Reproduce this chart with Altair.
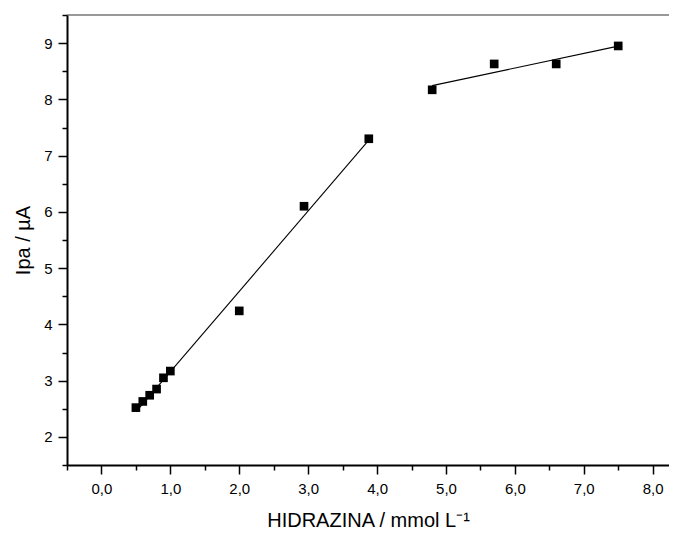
import altair as alt
import pandas as pd

# --- data ---
conc_low = [0.5, 0.6, 0.7, 0.8, 0.9, 1.0, 2.0, 2.94, 3.88]
ipa_low = [2.52, 2.63, 2.74, 2.85, 3.05, 3.17, 4.24, 6.10, 7.30]
conc_high = [4.8, 5.7, 6.6, 7.5]
ipa_high = [8.17, 8.63, 8.63, 8.95]

x_major = [0, 1, 2, 3, 4, 5, 6, 7, 8]
x_minor = [-0.5, 0.5, 1.5, 2.5, 3.5, 4.5, 5.5, 6.5, 7.5]
y_major = [2, 3, 4, 5, 6, 7, 8, 9]
y_minor = [1.5, 2.5, 3.5, 4.5, 5.5, 6.5, 7.5, 8.5, 9.5]

df = pd.DataFrame({
    "conc": conc_low + conc_high,
    "ipa": ipa_low + ipa_high,
    "seg": ["low"] * len(conc_low) + ["high"] * len(conc_high),
})

W, H = 602, 450
FONT = "Liberation Sans"

xscale = alt.Scale(domain=[-0.5, 8.237], nice=False, zero=False)
yscale = alt.Scale(domain=[1.5, 9.5], nice=False, zero=False)

base = alt.Chart(df)

points = base.mark_square(size=75, color="black", opacity=1).encode(
    x=alt.X("conc:Q", scale=xscale,
            axis=alt.Axis(orient="bottom", values=x_major, tickSize=9,
                          labelExpr="replace(format(datum.value, '.1f'), '.', ',')",
                          title="HIDRAZINA / mmol L⁻¹", labelPadding=7,
                          titlePadding=14, grid=False)),
    y=alt.Y("ipa:Q", scale=yscale,
            axis=alt.Axis(orient="left", values=y_major, tickSize=9,
                          format="d", title="Ipa / µA", labelPadding=6,
                          titlePadding=10, grid=False)),
)

minor = base.mark_point(opacity=0).encode(
    x=alt.X("conc:Q", scale=xscale,
            axis=alt.Axis(orient="bottom", values=x_minor, tickSize=5,
                          labels=False, domain=False, title=None, grid=False)),
    y=alt.Y("ipa:Q", scale=yscale,
            axis=alt.Axis(orient="left", values=y_minor, tickSize=5,
                          labels=False, domain=False, title=None, grid=False)),
)

fit = base.transform_regression("conc", "ipa", groupby=["seg"]).mark_line(
    color="black", strokeWidth=1.1
).encode(
    x=alt.X("conc:Q", scale=xscale, axis=None),
    y=alt.Y("ipa:Q", scale=yscale, axis=None),
    detail="seg:N",
)

top_line = alt.Chart(pd.DataFrame({"a": [0]})).mark_rule(
    color="#333333", strokeWidth=1
).encode(x=alt.value(0), x2=alt.value(W), y=alt.value(0))

chart = alt.layer(fit, points, minor, top_line).resolve_axis(
    x="independent", y="independent"
).properties(
    width=W, height=H,
    padding={"left": 59, "top": 7, "right": 0, "bottom": 66},
    autosize=alt.AutoSizeParams(type="none"),
).configure_view(stroke=None).configure_axis(
    domainColor="black", domainWidth=2, tickColor="black", tickWidth=1.5,
    labelFont=FONT, labelFontSize=15, labelColor="black",
    titleFont=FONT, titleFontSize=20, titleFontWeight="normal", titleColor="black",
)

chart.save("out.html", embed_options={"renderer": "svg", "actions": False})
